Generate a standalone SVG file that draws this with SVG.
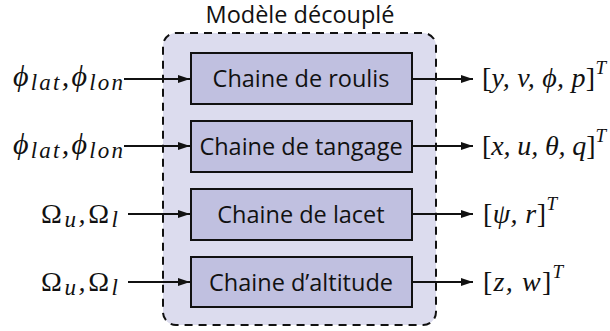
<svg xmlns="http://www.w3.org/2000/svg" width="610" height="331" viewBox="0 0 610 331">
<defs>
<marker id="ah" viewBox="0 0 12 8" refX="12" refY="4" markerWidth="12" markerHeight="8" markerUnits="userSpaceOnUse" orient="auto">
<path d="M0,0 L12,4 L0,8 Z" fill="#111"/>
</marker>
<style>
.title{font-family:"Open Sans",sans-serif;font-size:23.5px;fill:#111;text-anchor:middle}
.box{fill:#c0c0e0;stroke:#111;stroke-width:2}
.lbl{font-family:"Open Sans",sans-serif;font-size:23.5px;fill:#111;text-anchor:middle}
.m{font-family:"Liberation Serif","DejaVu Serif",serif;font-size:28px;font-style:italic;fill:#111}
.mi{font-size:30px}
.up{font-style:normal}
.sub{font-size:23px}
.sup{font-size:19px}
.c line{stroke:#111;stroke-width:2;marker-end:url(#ah)}
</style>
</defs>
<rect width="610" height="331" fill="#fff"/>
<g id="container">
<rect x="163" y="33" width="273" height="292" rx="13" fill="#dcdcee" stroke="#111" stroke-width="2" stroke-dasharray="8,6"/>
<text class="title" x="300" y="23">Modèle découplé</text>
</g>
<g id="roulis"><rect class="box" x="191" y="53" width="221" height="51"/><text class="lbl" x="301" y="87">Chaine de roulis</text></g>
<g id="tangage"><rect class="box" x="191" y="121" width="221" height="51"/><text class="lbl" x="301" y="155">Chaine de tangage</text></g>
<g id="lacet"><rect class="box" x="191" y="189" width="221" height="51"/><text class="lbl" x="301" y="223">Chaine de lacet</text></g>
<g id="altitude"><rect class="box" x="191" y="257" width="221" height="50"/><text class="lbl" x="301" y="291">Chaine d’altitude</text></g>
<g id="in1"><text class="m mi" x="13" y="86" textLength="110" lengthAdjust="spacing">ϕ<tspan class="sub" dy="4">lat</tspan><tspan dy="-4">,ϕ</tspan><tspan class="sub" dy="4">lon</tspan></text></g>
<g id="in2"><text class="m mi" x="13" y="154" textLength="110" lengthAdjust="spacing">ϕ<tspan class="sub" dy="4">lat</tspan><tspan dy="-4">,ϕ</tspan><tspan class="sub" dy="4">lon</tspan></text></g>
<g id="in3"><text class="m" x="41" y="223" textLength="77" lengthAdjust="spacing"><tspan class="up">Ω</tspan><tspan class="sub" dy="4">u</tspan><tspan dy="-4">,</tspan><tspan class="up">Ω</tspan><tspan class="sub" dy="4">l</tspan></text></g>
<g id="in4"><text class="m" x="41" y="291" textLength="77" lengthAdjust="spacing"><tspan class="up">Ω</tspan><tspan class="sub" dy="4">u</tspan><tspan dy="-4">,</tspan><tspan class="up">Ω</tspan><tspan class="sub" dy="4">l</tspan></text></g>
<g id="out1"><text class="m" x="482" y="87" textLength="124" lengthAdjust="spacing"><tspan class="up">[</tspan>y, v, ϕ, p<tspan class="up">]</tspan><tspan class="sup" dy="-13">T</tspan></text></g>
<g id="out2"><text class="m" x="482" y="155" textLength="124" lengthAdjust="spacing"><tspan class="up">[</tspan>x, u, θ, q<tspan class="up">]</tspan><tspan class="sup" dy="-13">T</tspan></text></g>
<g id="out3"><text class="m" x="483" y="223" textLength="74" lengthAdjust="spacing"><tspan class="up">[</tspan>ψ, r<tspan class="up">]</tspan><tspan class="sup" dy="-13">T</tspan></text></g>
<g id="out4"><text class="m" x="483" y="291" textLength="80" lengthAdjust="spacing"><tspan class="up">[</tspan>z, w<tspan class="up">]</tspan><tspan class="sup" dy="-13">T</tspan></text></g>
<g class="c" id="connectors">
<line x1="124" y1="79" x2="190" y2="79"/>
<line x1="124" y1="146" x2="190" y2="146"/>
<line x1="128" y1="214" x2="190" y2="214"/>
<line x1="128" y1="282" x2="190" y2="282"/>
<line x1="412" y1="79" x2="473" y2="79"/>
<line x1="412" y1="146" x2="473" y2="146"/>
<line x1="412" y1="214" x2="473" y2="214"/>
<line x1="412" y1="282" x2="473" y2="282"/>
</g>
</svg>
